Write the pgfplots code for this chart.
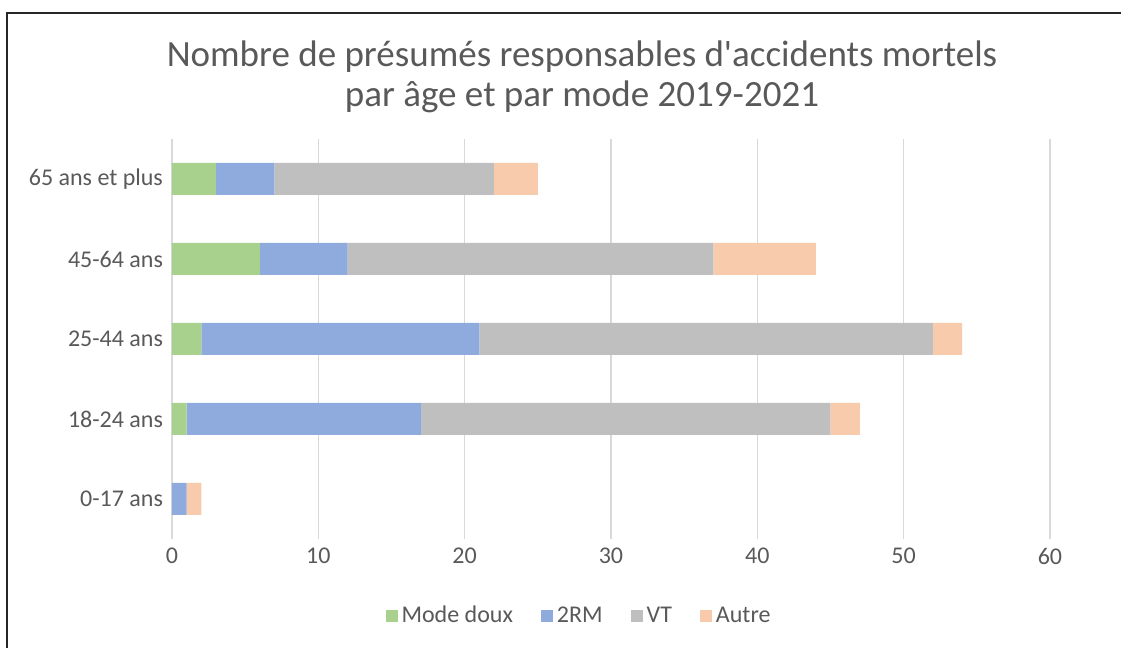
\documentclass[border=0pt]{standalone}
\usepackage{pgfplots}
\pgfplotsset{compat=1.18}
\usepackage{fontspec}
\setmainfont{Carlito}
\definecolor{cdoux}{HTML}{A9D18E}
\definecolor{c2rm}{HTML}{8FAADC}
\definecolor{cvt}{HTML}{BFBFBF}
\definecolor{cautre}{HTML}{F8CBAD}
\definecolor{txt}{HTML}{595959}
\definecolor{gridc}{HTML}{D9D9D9}
\begin{document}
\begin{tikzpicture}
\path[use as bounding box] (0,0) rectangle (560.5pt,324pt);
\draw[line width=0.9pt, black!85] (3.5pt,0) -- (3.5pt,317.5pt) -- (560.5pt,317.5pt);
\node[align=center, text=txt, font=\fontsize{18.5pt}{20pt}\selectfont] at (291pt,285.5pt) {Nombre de présumés responsables d\textquotesingle accidents mortels\\par âge et par mode 2019-2021};
\begin{axis}[
  at={(86pt,54.5pt)}, anchor=south west,
  width=439pt, height=200pt, scale only axis,
  xbar stacked, bar width=16pt,
  xmin=0, xmax=60, ymin=-0.5, ymax=4.5,
  xtick={0,10,...,60},
  ytick={0,1,2,3,4},
  yticklabels={0-17 ans,18-24 ans,25-44 ans,45-64 ans,65 ans et plus},
  xmajorgrids, grid style={gridc, line width=0.7pt},
  axis line style={draw=none},
  major tick length=0pt,
  tick label style={text=txt, font=\fontsize{12pt}{14pt}\selectfont},
  /pgf/number format/assume math mode=true,
  yticklabel style={xshift=-1pt},
  xticklabel style={yshift=-1pt},
  legend style={at={(0.4647,-0.1925)}, anchor=center, draw=none, legend columns=4,
    font=\fontsize{12pt}{14pt}\selectfont, text=txt,
    /tikz/every even column/.append style={column sep=12pt}},
  legend image code/.code={\fill[#1] (0pt,-3pt) rectangle (6pt,3pt);},
  every axis plot/.append style={draw=none},
]
\addplot[fill=cdoux] coordinates {(0,0) (1,1) (2,2) (6,3) (3,4)};
\addplot[fill=c2rm] coordinates {(1,0) (16,1) (19,2) (6,3) (4,4)};
\addplot[fill=cvt] coordinates {(0,0) (28,1) (31,2) (25,3) (15,4)};
\addplot[fill=cautre] coordinates {(1,0) (2,1) (2,2) (7,3) (3,4)};
\legend{Mode doux,2RM,VT,Autre}
\end{axis}
\end{tikzpicture}
\end{document}
